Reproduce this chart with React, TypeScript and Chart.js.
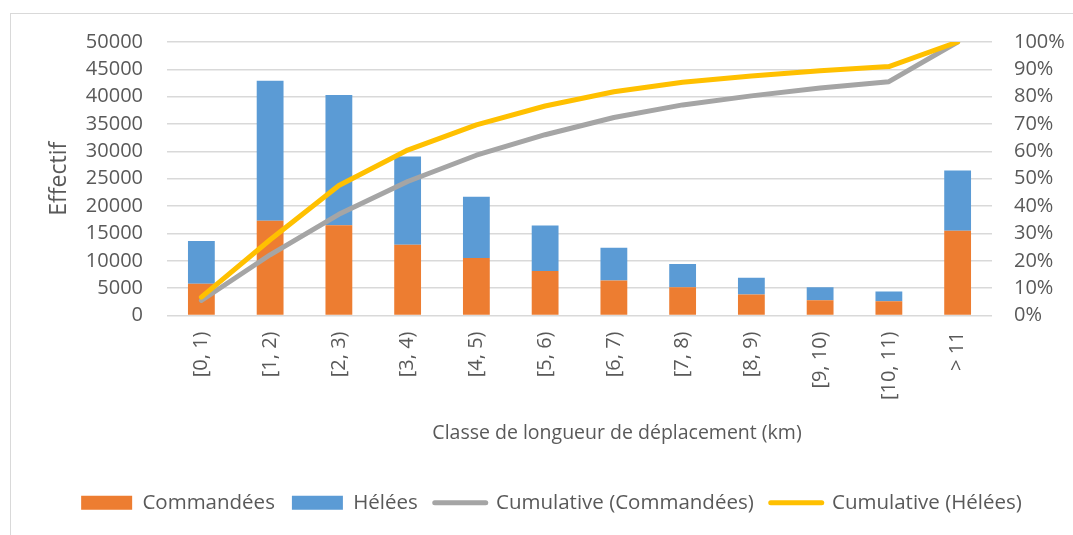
import React, { useEffect, useRef } from "react";
import { Chart, registerables } from "chart.js";

Chart.register(...registerables);

const categories = ["[0, 1)", "[1, 2)", "[2, 3)", "[3, 4)", "[4, 5)", "[5, 6)", "[6, 7)", "[7, 8)", "[8, 9)", "[9, 10)", "[10, 11)", "> 11"];
const commandees = [5800, 17300, 16500, 12950, 10500, 8150, 6400, 5150, 3850, 2800, 2600, 15500];
const helees = [7800, 25600, 23800, 16100, 11200, 8300, 6000, 4250, 3050, 2350, 1800, 11000];
const cumulCommandees = [0.055, 0.222, 0.37, 0.49, 0.586, 0.661, 0.724, 0.77, 0.803, 0.832, 0.855, 1.0];
const cumulHelees = [0.067, 0.277, 0.475, 0.605, 0.697, 0.766, 0.818, 0.853, 0.876, 0.895, 0.91, 1.0];

const leftMax = 50000;
const leftStep = 5000;
const rightMax = 1;
const rightStep = 0.1;

const xTitle = "Classe de longueur de déplacement (km)";
const yTitle = "Effectif";

const FONT = "'Open Sans', sans-serif";
const TEXT = "#595959";
const GRID = "#d9d9d9";

const xTitlePlugin = {
  id: "xTitlePlugin",
  afterDraw(chart: any) {
    const ctx = chart.ctx;
    ctx.save();
    ctx.font = `19.5px ${FONT}`;
    ctx.fillStyle = TEXT;
    ctx.textAlign = "center";
    ctx.textBaseline = "middle";
    ctx.fillText(xTitle, 617, 433);
    ctx.restore();
  },
};

export default function App() {
  const ref = useRef<HTMLCanvasElement | null>(null);

  useEffect(() => {
    if (!ref.current) return;
    const chart = new Chart(ref.current, {
      type: "bar",
      data: {
        labels: categories,
        datasets: [
          {
            type: "bar",
            label: "Commandées",
            data: commandees,
            backgroundColor: "#ED7D31",
            stack: "s",
            yAxisID: "y",
            categoryPercentage: 1,
            barPercentage: 0.39,
            order: 2,
          },
          {
            type: "bar",
            label: "Hélées",
            data: helees,
            backgroundColor: "#5B9BD5",
            stack: "s",
            yAxisID: "y",
            categoryPercentage: 1,
            barPercentage: 0.39,
            order: 3,
          },
          {
            type: "line",
            label: "Cumulative (Commandées)",
            data: cumulCommandees,
            yAxisID: "y1",
            borderColor: "#A5A5A5",
            backgroundColor: "#A5A5A5",
            borderWidth: 5,
            pointRadius: 0,
            tension: 0,
            borderJoinStyle: "round",
            borderCapStyle: "round",
            order: 1,
          } as any,
          {
            type: "line",
            label: "Cumulative (Hélées)",
            data: cumulHelees,
            yAxisID: "y1",
            borderColor: "#FFC000",
            backgroundColor: "#FFC000",
            borderWidth: 5,
            pointRadius: 0,
            tension: 0,
            borderJoinStyle: "round",
            borderCapStyle: "round",
            order: 0,
          } as any,
        ],
      },
      options: {
        responsive: false,
        animation: false,
        maintainAspectRatio: false,
        layout: { padding: { left: 30, top: 42, right: 0, bottom: 12 } },
        plugins: {
          tooltip: { enabled: false },
          legend: {
            position: "bottom",
            labels: {
              color: TEXT,
              font: { family: FONT, size: 20.5 },
              boxWidth: 51,
              boxHeight: 14,
              padding: 17,
              usePointStyle: true,
              pointStyleWidth: 51,
              generateLabels: (c: any) => {
                return c.data.datasets.map((ds: any, i: number) => {
                  const isLine = ds.type === "line";
                  return {
                    text: ds.label,
                    fillStyle: isLine ? ds.borderColor : ds.backgroundColor,
                    strokeStyle: isLine ? ds.borderColor : ds.backgroundColor,
                    lineWidth: isLine ? 5 : 0,
                    lineCap: "round",
                    pointStyle: isLine ? "line" : "rect",
                    hidden: false,
                    datasetIndex: i,
                    fontColor: TEXT,
                  };
                });
              },
            },
          },
        },
        scales: {
          x: {
            stacked: true,
            grid: { display: false, drawTicks: false },
            border: { display: false },
            ticks: {
              color: TEXT,
              font: { family: FONT, size: 20 },
              minRotation: 90,
              maxRotation: 90,
              padding: 16,
              autoSkip: false,
            },
            afterFit: (s: any) => {
              s.height = 160;
            },
          },
          y: {
            stacked: true,
            position: "left",
            min: 0,
            max: leftMax,
            grid: { color: GRID, lineWidth: 1.5, drawTicks: false },
            border: { display: false },
            ticks: {
              stepSize: leftStep,
              color: TEXT,
              font: { family: FONT, size: 20 },
              padding: 24,
              callback: (v: any) => String(v),
            },
            title: {
              display: true,
              text: yTitle,
              color: TEXT,
              font: { family: FONT, size: 23 },
              padding: { top: 16, bottom: 0 },
            },
            afterFit: (s: any) => {
              s.width = 137;
            },
          },
          y1: {
            stacked: false,
            position: "right",
            min: 0,
            max: rightMax,
            grid: { display: false, drawTicks: false },
            border: { display: false },
            ticks: {
              stepSize: rightStep,
              color: TEXT,
              font: { family: FONT, size: 20 },
              padding: 22,
              callback: (v: any) => `${Math.round(Number(v) * 100)}%`,
            },
            afterFit: (s: any) => {
              s.width = 81;
            },
          },
        },
      },
      plugins: [xTitlePlugin],
    });
    return () => chart.destroy();
  }, []);

  return (
    <div style={{ position: "fixed", left: 0, top: 0, width: 1073, height: 535, background: "#fff", overflow: "hidden" }}>
      <div
        style={{
          position: "absolute",
          left: 10,
          top: 13,
          width: 1200,
          height: 600,
          border: "1px solid #d9d9d9",
          boxSizing: "border-box",
        }}
      />
      <canvas ref={ref} width={1073} height={535} style={{ position: "absolute", left: 0, top: 0, width: 1073, height: 535 }} />
    </div>
  );
}
